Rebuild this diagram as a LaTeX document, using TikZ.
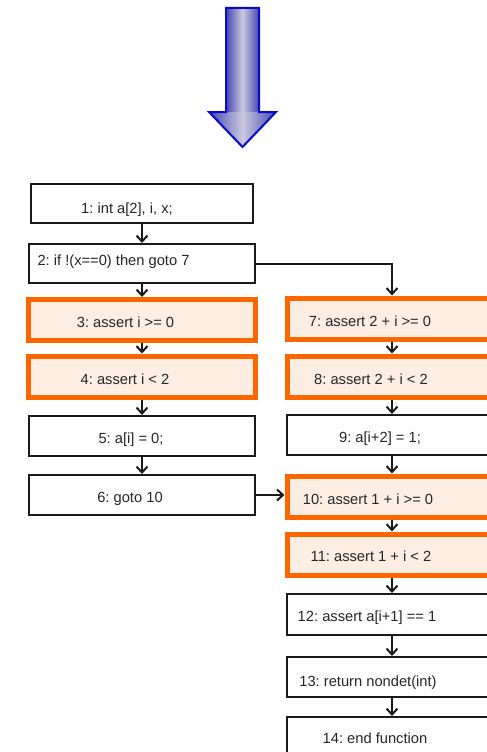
\documentclass[tikz,border=0pt]{standalone}
\usepackage{fontspec}
\setmainfont{Liberation Sans}
\usetikzlibrary{arrows.meta}
\frenchspacing
\definecolor{orng}{RGB}{255,102,0}
\definecolor{orfill}{RGB}{253,238,227}
\definecolor{boxline}{RGB}{26,26,26}
\definecolor{arrdark}{RGB}{70,70,178}
\definecolor{arrlight}{RGB}{202,202,224}
\definecolor{arrline}{RGB}{10,10,205}
\begin{document}
\begin{tikzpicture}[x=1bp,y=-1bp,
  plainbox/.style={draw=boxline, line width=2bp, fill=white, minimum height=40bp, inner sep=0pt},
  assertbox/.style={draw=orng, line width=5bp, fill=orfill, minimum height=41bp, inner sep=0pt},
  lcol/.style={minimum width=226bp},
  rcol/.style={minimum width=210bp},
  tx/.style={font=\fontsize{14.7bp}{17bp}\selectfont\frenchspacing, text=black!85, text height=10.5bp, text depth=0bp, inner sep=0pt},
  conn/.style={draw=boxline, line width=2bp, -{Straight Barb[length=6bp,width=11bp]}},
  bigarrow/.style={draw=arrline, line width=2bp, line join=miter}
]
\useasboundingbox (0,0) rectangle (487,752);
\clip (0,0) rectangle (487,752);

% big blue arrow
\fill[left color=arrdark, right color=arrdark, middle color=arrlight] (226,8) rectangle (259,112);
\fill[left color=arrdark, right color=arrdark, middle color=arrlight] (209,112) -- (276,112) -- (242.5,147) -- cycle;
\draw[bigarrow] (226,8) -- (259,8) -- (259,112) -- (276,112) -- (242.5,147) -- (209,112) -- (226,112) -- cycle;

% left column
\node[plainbox, minimum width=222bp, minimum height=39bp, label={[tx,xshift=-15bp,yshift=-4.5bp]center:{1: int a[2], i, x;}}] (b1) at (142,203.5) {};
\node[plainbox, lcol, minimum height=39bp, label={[tx,xshift=-28.5bp,yshift=3.5bp]center:{2: if !(x==0) then goto 7}}] (b2) at (142,263.5) {};
\node[assertbox, lcol, label={[tx,xshift=-16.5bp,yshift=-2bp]center:{3: assert i >= 0}}] (b3) at (142,320) {};
\node[assertbox, lcol, label={[tx,xshift=-17bp,yshift=-2.5bp]center:{4: assert i < 2}}] (b4) at (142,376.5) {};
\node[plainbox, lcol, label={[tx,xshift=-11bp,yshift=-2.7bp]center:{5: a[i] = 0;}}] (b5) at (142,436) {};
\node[plainbox, lcol, label={[tx,xshift=-12bp,yshift=-2bp]center:{6: goto 10}}] (b6) at (142,495) {};

% right column
\node[assertbox, rcol, label={[tx,xshift=-22bp,yshift=-3bp]center:{7: assert 2 + i >= 0}}] (b7) at (392,318.5) {};
\node[assertbox, rcol, label={[tx,xshift=-21bp,yshift=-2.5bp]center:{8: assert 2 + i < 2}}] (b8) at (392,376.5) {};
\node[plainbox, rcol, label={[tx,xshift=-12bp,yshift=-2.5bp]center:{9: a[i+2] = 1;}}] (b9) at (392,435) {};
\node[assertbox, rcol, label={[tx,xshift=-24bp,yshift=-2.5bp]center:{10: assert 1 + i >= 0}}] (b10) at (392,496.5) {};
\node[assertbox, rcol, label={[tx,xshift=-21bp,yshift=-2bp]center:{11: assert 1 + i < 2}}] (b11) at (392,554.5) {};
\node[plainbox, rcol, minimum height=41bp, label={[tx,xshift=-25bp,yshift=-2bp]center:{12: assert a[i+1] == 1}}] (b12) at (392,614.5) {};
\node[plainbox, rcol, label={[tx,xshift=-24bp,yshift=-4bp]center:{13: return nondet(int)}}] (b13) at (392,677) {};
\node[plainbox, rcol, label={[tx,xshift=-17bp,yshift=-1bp]center:{14: end function}}] (b14) at (392,737) {};

% connectors
\draw[conn] (b1.south) -- (b2.north);
\draw[conn] (b2.south) -- (b3.north);
\draw[conn] (b3.south) -- (b4.north);
\draw[conn] (b4.south) -- (b5.north);
\draw[conn] (b5.south) -- (b6.north);
\draw[conn] (b2.east) -| (b7.north);
\draw[conn] (b7.south) -- (b8.north);
\draw[conn] (b8.south) -- (b9.north);
\draw[conn] (b9.south) -- (b10.north);
\draw[conn] (b6.east) -- (b6.east -| b10.west);
\draw[conn] (b10.south) -- (b11.north);
\draw[conn] (b11.south) -- (b12.north);
\draw[conn] (b12.south) -- (b13.north);
\draw[conn] (b13.south) -- (b14.north);
\end{tikzpicture}
\end{document}
